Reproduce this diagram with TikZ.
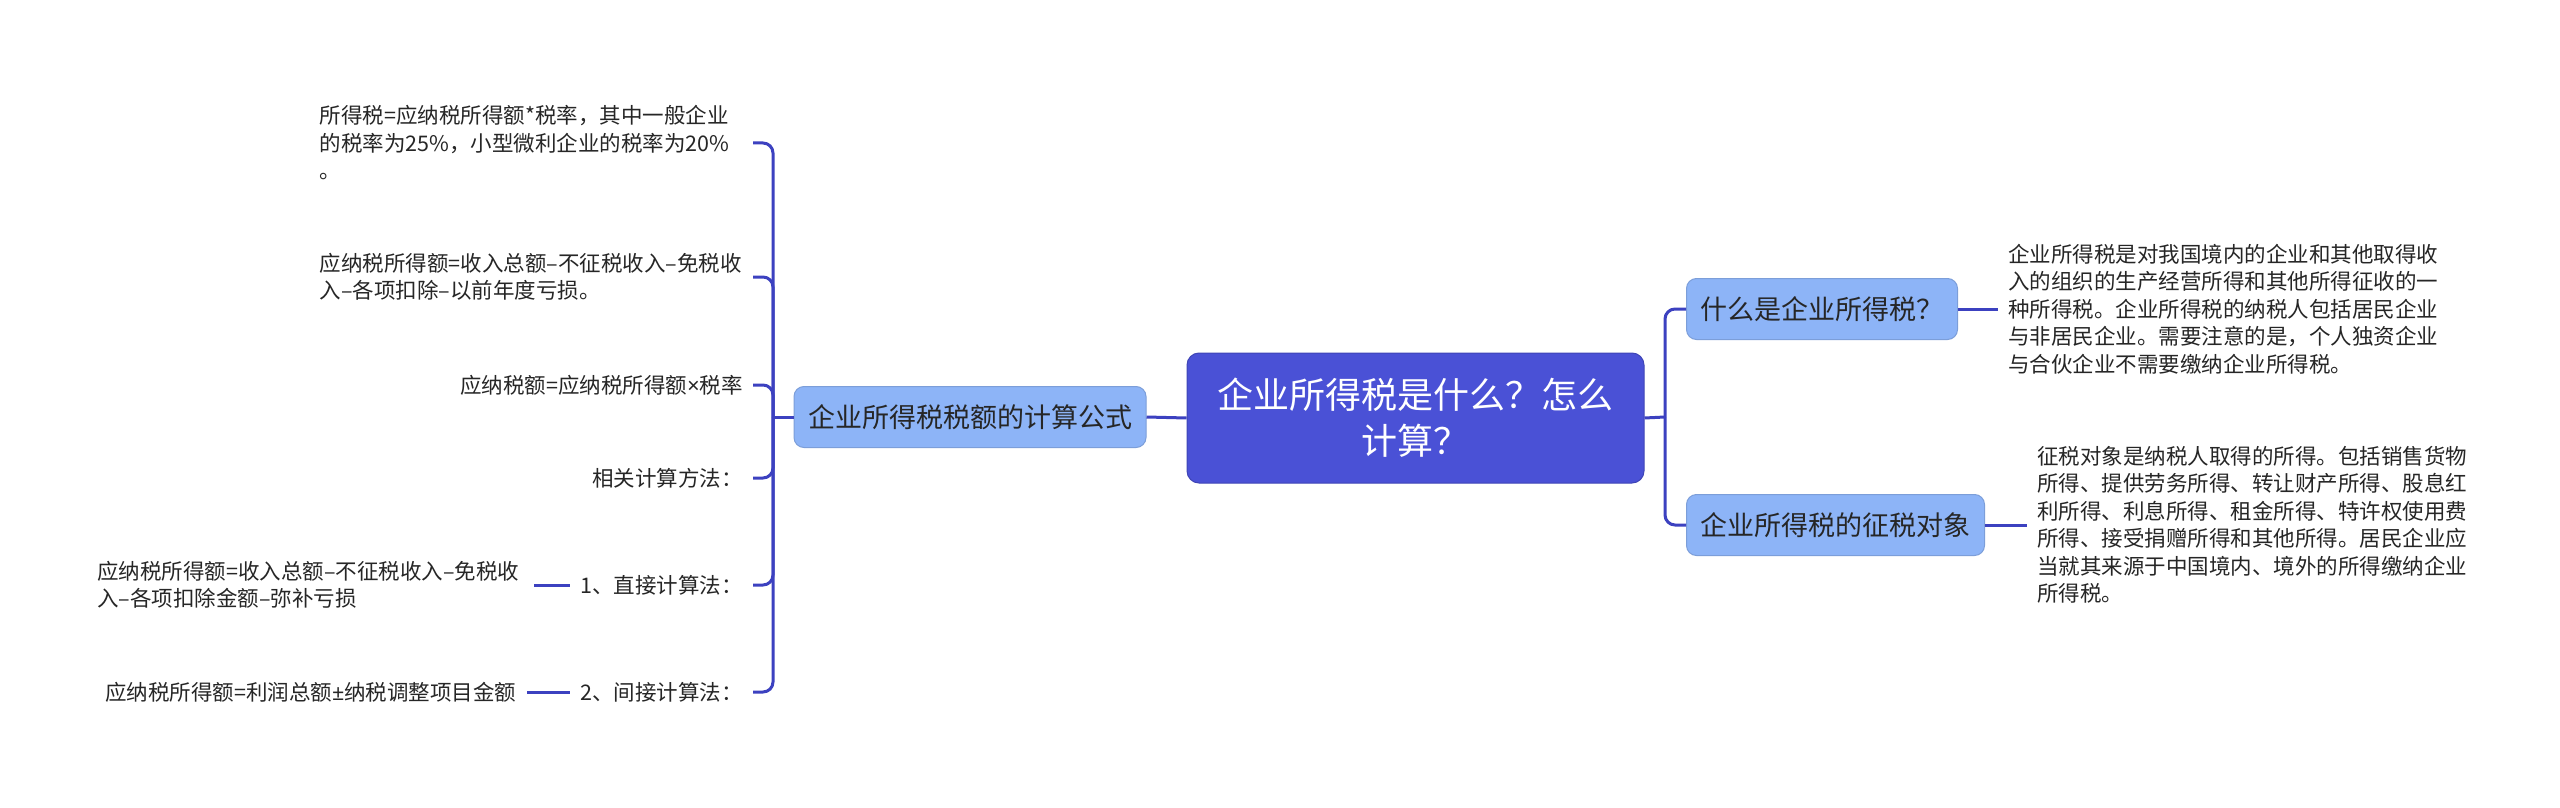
\documentclass[tikz,border=0pt]{standalone}
\usepackage{fontspec}
\setmainfont{Noto Sans CJK SC}
\newfontfamily\latinfont{Noto Sans}
\usepackage{xcolor}
\usetikzlibrary{positioning}
\definecolor{rootblue}{HTML}{4A51D6}
\definecolor{boxblue}{HTML}{8DB4F7}
\definecolor{linkblue}{HTML}{3C41C0}
\definecolor{txt}{HTML}{262626}
\newcommand{\timessign}{{\latinfont ×}}
\newcommand{\pmsign}{{\latinfont ±}}
\tikzset{
    topic/.style={rectangle, rounded corners=6pt, fill=rootblue, draw=rootblue!85!black, line width=0.5pt, text=white,
        font=\fontsize{18pt}{23pt}\selectfont, align=center, minimum width=228.5pt, minimum height=65pt, inner sep=0pt},
    branch/.style={rectangle, rounded corners=5pt, fill=boxblue, draw=boxblue!88!black, line width=0.5pt, text=txt,
        font=\fontsize{13.5pt}{16pt}\selectfont, inner xsep=7pt, inner ysep=0pt, minimum height=30.5pt},
    leaf/.style={text=txt, font=\fontsize{10.75pt}{13.75pt}\selectfont, inner xsep=5pt, inner ysep=0pt, align=left},
    link/.style={draw=linkblue, line width=1.5pt, rounded corners=5pt}
}
\begin{document}
\begin{tikzpicture}[x=0.5pt, y=-0.5pt]
                        \path[use as bounding box, fill=white] (0,0) rectangle (2560,808);

                        \node[topic] (root) at (1415.5,418) {企业所得税是什么？怎么\\计算？};
                        \node[branch] (calc) at (970,417) {企业所得税税额的计算公式};
                        \node[branch, anchor=west] (what) at (1686,309) {什么是企业所得税？};
                        \node[branch, anchor=west] (object) at (1686,525) {企业所得税的征税对象};
                        \coordinate (lj) at (773,417);
                        \coordinate (rj) at (1665,417);

                        \node[leaf, anchor=east, text width=211.5pt] (f1) at (753,143) {所得税=应纳税所得额*税率，其中一般企业\\的税率为25\%，小型微利企业的税率为20\%\\。};
                        \node[leaf, anchor=east, text width=211.5pt] (f2) at (753,277) {应纳税所得额=收入总额–不征税收入–免税收\\入–各项扣除–以前年度亏损。};
                        \node[leaf, anchor=east] (f3) at (753,385) {应纳税额=应纳税所得额\timessign 税率};
                        \node[leaf, anchor=east] (f4) at (753,478) {相关计算方法：};
                        \node[leaf, anchor=east] (f5) at (753,585) {1、直接计算法：};
                        \node[leaf, anchor=east] (f6) at (753,692) {2、间接计算法：};
                        \node[leaf, left=18pt of f5, text width=213pt] (g5) {应纳税所得额=收入总额–不征税收入–免税收\\入–各项扣除金额–弥补亏损};
                        \node[leaf, left=21.5pt of f6] (g6) {应纳税所得额=利润总额\pmsign 纳税调整项目金额};

                        \node[leaf, right=20pt of what, text width=220pt] (d1) {企业所得税是对我国境内的企业和其他取得收\\入的组织的生产经营所得和其他所得征收的一\\种所得税。企业所得税的纳税人包括居民企业\\与非居民企业。需要注意的是，个人独资企业\\与合伙企业不需要缴纳企业所得税。};
                        \node[leaf, right=21pt of object, text width=216pt] (d2) {征税对象是纳税人取得的所得。包括销售货物\\所得、提供劳务所得、转让财产所得、股息红\\利所得、利息所得、租金所得、特许权使用费\\所得、接受捐赠所得和其他所得。居民企业应\\当就其来源于中国境内、境外的所得缴纳企业\\所得税。};

                        \draw[link] (root.west) -- (calc.east);
                        \draw[link] (calc.west) -- (lj);
                        \draw[link] (lj) |- (f1.east);
                        \draw[link] (lj) |- (f2.east);
                        \draw[link] (lj) |- (f3.east);
                        \draw[link] (lj) |- (f4.east);
                        \draw[link] (lj) |- (f5.east);
                        \draw[link] (lj) |- (f6.east);
                        \draw[link] (f5) -- (g5);
                        \draw[link] (f6) -- (g6);

                        \draw[link] (root.east) -- (rj);
                        \draw[link] (rj) |- (what.west);
                        \draw[link] (rj) |- (object.west);
                        \draw[link] (what) -- (d1);
                        \draw[link] (object) -- (d2);
                    \end{tikzpicture}
\end{document}
